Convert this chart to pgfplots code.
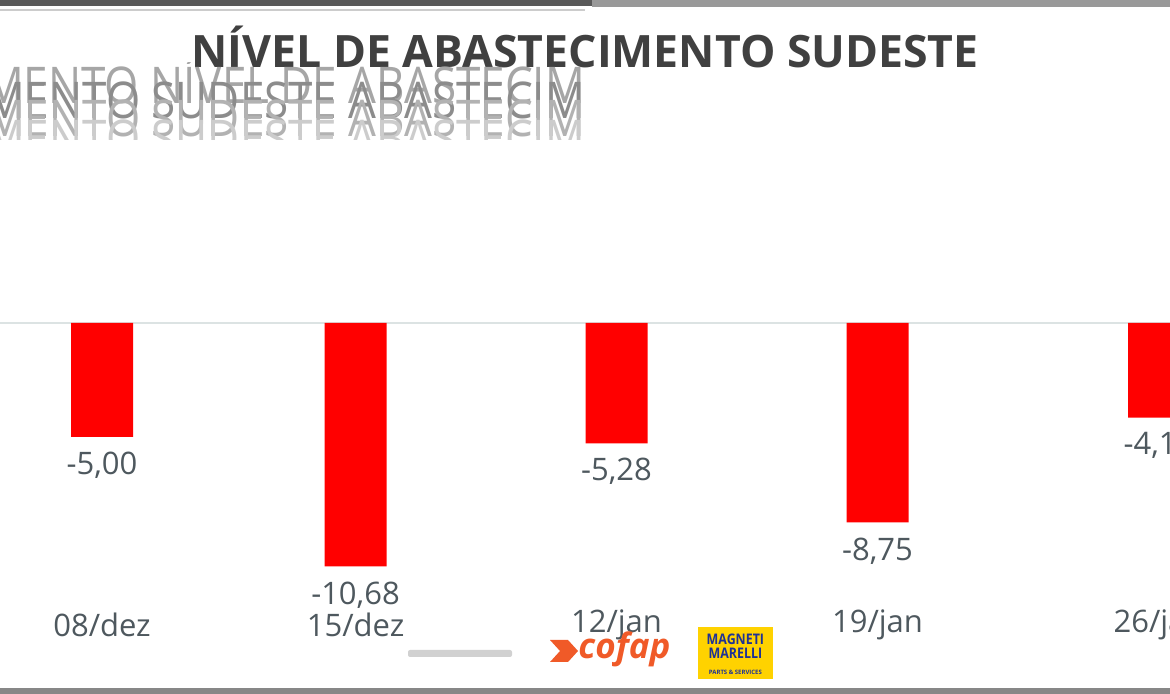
\documentclass[border=0pt]{standalone}
\usepackage{pgfplots}
\pgfplotsset{compat=1.18}
\usepackage{fontspec}
\setmainfont{Open Sans}
\definecolor{barred}{RGB}{255,0,0}
\definecolor{lab}{RGB}{78,88,94}
\definecolor{zeroline}{RGB}{220,227,227}
\definecolor{cofap}{RGB}{240,90,40}
\definecolor{mmyellow}{RGB}{255,210,0}
\definecolor{mmblue}{RGB}{30,50,150}
\begin{document}
\begin{tikzpicture}[x=1pt,y=1pt]
\useasboundingbox (0,0) rectangle (585,347);
\clip (0,0) rectangle (585,347);
\fill[white] (0,0) rectangle (585,347);
% top and bottom bands
\fill[black!65] (0,347) rectangle (296,344);
\fill[black!40] (296,347) rectangle (585,343.5);
\fill[black!20] (0,342.6) rectangle (292.5,341.4);
\fill[black!47] (0,0) rectangle (585,3);
% title
\node[font=\bfseries\fontsize{22.3}{25}\selectfont, text=black!75] at (292.5,323.5) {NÍVEL DE ABASTECIMENTO SUDESTE};
% ghost text
\begin{scope}
\clip (0,347-31.5) rectangle (296,347-70);
\node[font=\fontsize{22}{24}\selectfont, text=black!35, anchor=east, yscale=1.15] at (296,347-40) {MENTO NÍVEL DE ABASTECIM};
\node[font=\fontsize{22}{24}\selectfont, text=black!45, anchor=east, yscale=1.15] at (296,347-50) {MENTO SUDESTE ABASTECIM};
\node[font=\fontsize{22}{24}\selectfont, text=black!30, anchor=east, yscale=1.15] at (296,347-59) {MENTO SUDESTE ABASTECIM};
\node[font=\fontsize{22}{24}\selectfont, text=black!20, anchor=east, yscale=1.15] at (296,347-69) {MENTO SUDESTE ABASTECIM};
\end{scope}
\begin{axis}[
 at={(0,0)}, anchor=south west, scale only axis, width=585pt, height=347pt,
 xmin=0, xmax=1170, ymin=-16.272, ymax=14.167,
 axis line style={draw=none}, ytick=\empty, major tick length=0pt,
 xtick=data, xticklabels={08/dez,15/dez,12/jan,19/jan,26/jan},
 xticklabel style={anchor=center, yshift=34.5pt, font=\fontsize{15.5}{18}\selectfont, text=lab},
 ybar, bar width=31pt,
 extra y ticks={0}, extra y tick labels={},
 extra y tick style={grid=major, major grid style={draw=zeroline, line width=1pt}},
 nodes near coords,
 nodes near coords style={font=\fontsize{15.5}{18}\selectfont, text=lab, yshift=-4pt},
 /pgf/number format/.cd, fixed, fixed zerofill, precision=2, use comma, assume math mode=true,
]
\addplot[fill=barred, draw=none] coordinates {(102,-5.00) (355.5,-10.68) (616.5,-5.28) (877.5,-8.75) (1159,-4.15)};
\end{axis}
% sponsor strip
\fill[black!18, rounded corners=1pt] (204,22) rectangle (256,18.5);
% cofap logo
\fill[cofap] (275,27) -- (284,27) -- (289,21.5) -- (284,16) -- (275,16) -- (280,21.5) -- cycle;
\node[font=\bfseries\itshape\fontsize{17.5}{18}\selectfont, text=cofap, anchor=west, inner sep=0pt] at (289,22.5) {cofap};
% magneti marelli logo
\fill[mmyellow] (349,7.5) rectangle (386.5,33.5);
\node[font=\bfseries\fontsize{7.3}{7}\selectfont, text=mmblue, inner sep=0pt, xscale=0.85] at (367.7,27.5) {MAGNETI};
\node[font=\bfseries\fontsize{7.3}{7}\selectfont, text=mmblue, inner sep=0pt, xscale=0.85] at (367.7,20.5) {MARELLI};
\node[font=\bfseries\fontsize{3}{3}\selectfont, text=mmblue, inner sep=0pt] at (367.7,11) {PARTS \& SERVICES};
\end{tikzpicture}
\end{document}
